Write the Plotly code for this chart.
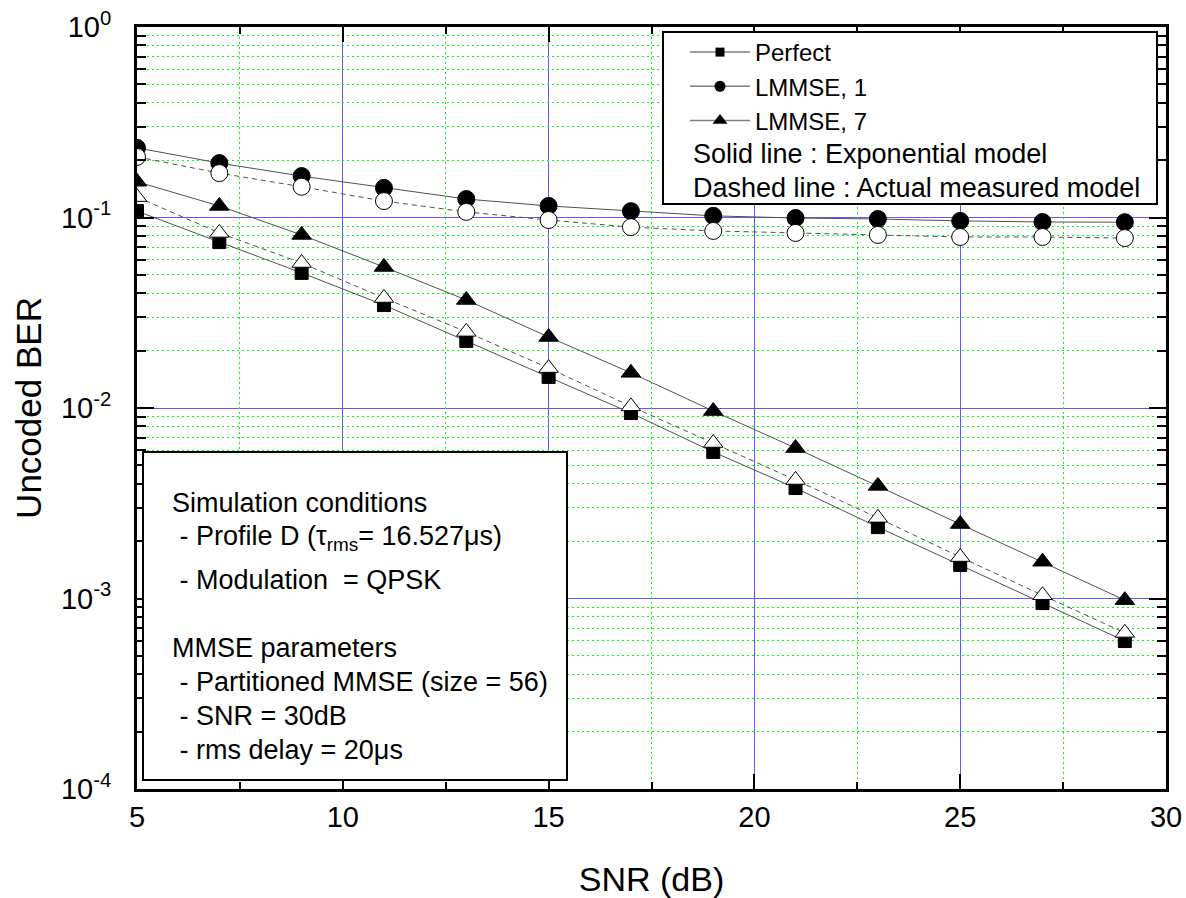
import plotly.graph_objects as go

# ---------------- data ----------------
snr = [5, 7, 9, 11, 13, 15, 17, 19, 21, 23, 25, 27, 29]
perfect = [0.108, 0.0743, 0.0512, 0.0347, 0.0225, 0.01456, 0.00941, 0.00588,
           0.0038, 0.00237, 0.0015, 0.000946, 0.000598]
lmmse1_exp = [0.232, 0.193, 0.165, 0.143, 0.125, 0.115, 0.108, 0.102,
              0.0994, 0.0982, 0.096, 0.0947, 0.0945]
lmmse7_exp = [0.154, 0.115, 0.081, 0.055, 0.0369, 0.0236, 0.0153, 0.00964,
              0.00616, 0.0039, 0.00246, 0.00156, 0.00098]
lmmse1_meas = [0.208, 0.171, 0.145, 0.122, 0.107, 0.097, 0.089, 0.085,
               0.083, 0.081, 0.079, 0.079, 0.078]
lmmse7_meas = [0.128, 0.083, 0.0577, 0.0378, 0.0251, 0.0162, 0.0102, 0.00655,
               0.00419, 0.00265, 0.00165, 0.00104, 0.00066]

series_names = ["Perfect", "LMMSE, 1", "LMMSE, 7"]
x_tick_vals = [5, 10, 15, 20, 25, 30]
x_minor_vals = [7.5, 12.5, 17.5, 22.5, 27.5]
y_exponents = [-4, -3, -2, -1, 0]
y_tick_text = ["10<sup>%s</sup>" % e for e in y_exponents]

legend_note_lines = ["Solid line : Exponential model",
                     "Dashed line : Actual measured model"]
cond_lines = ["Simulation conditions",
              " - Profile D (\u03c4<sub>rms</sub>= 16.527\u03bcs)",
              " - Modulation  = QPSK",
              "MMSE parameters",
              " - Partitioned MMSE (size = 56)",
              " - SNR = 30dB",
              " - rms delay = 20\u03bcs"]

FONT = "Liberation Sans, Arial, sans-serif"
LINE_C = "#505050"
BLUE = "#5a5aff"
GREEN = "#00ff00"

# ---------------- figure ----------------
fig = go.Figure()

# empty helpers so the overlay (minor-grid) axes get drawn
fig.add_trace(go.Scatter(x=[None], y=[None], xaxis="x2", yaxis="y",
                         showlegend=False, hoverinfo="skip"))
fig.add_trace(go.Scatter(x=[None], y=[None], xaxis="x", yaxis="y2",
                         showlegend=False, hoverinfo="skip"))

def add(y, name, symbol, filled, dash):
    fig.add_trace(go.Scatter(
        x=snr, y=y, name=name, mode="lines+markers",
        line=dict(color=LINE_C, width=1, dash=dash),
        marker=dict(symbol=symbol, size=17 if symbol != "square" else 13,
                    color="black" if filled else "white",
                    line=dict(color="black", width=1)),
        showlegend=False, cliponaxis=True))

add(perfect, series_names[0], "square", True, "solid")
add(lmmse1_exp, series_names[1], "circle", True, "solid")
add(lmmse7_exp, series_names[2], "triangle-up", True, "solid")
add(lmmse1_meas, series_names[1] + " (measured)", "circle", False, "5px,4px")
add(lmmse7_meas, series_names[2] + " (measured)", "triangle-up", False, "5px,4px")

# legend-only entries (small symbols, thin grey line, as in the reference key)
for name, sym, sz in zip(series_names, ["square", "circle", "triangle-up"], [9, 11, 13]):
    fig.add_trace(go.Scatter(
        x=[None], y=[None], name=name, mode="lines+markers",
        line=dict(color="#808080", width=1.5),
        marker=dict(symbol=sym, size=sz, color="black"),
        showlegend=True))

W, H = 1186, 898
L, R, T, B = 137, 1166, 27, 789

def px(x):
    return (x - L) / (R - L)

def py(y):
    return (B - y) / (B - T)

shapes = [
    dict(type="rect", xref="paper", yref="paper", layer="above",
         x0=px(663), x1=px(1157), y0=py(204), y1=py(32),
         fillcolor="white", line=dict(color="black", width=2)),
    dict(type="rect", xref="paper", yref="paper", layer="above",
         x0=px(143), x1=px(567), y0=py(780), y1=py(452),
         fillcolor="white", line=dict(color="black", width=2)),
]

annotations = []
for txt, ypix in zip(legend_note_lines, [154, 188]):
    annotations.append(dict(xref="paper", yref="paper", x=px(691), y=py(ypix),
                            xanchor="left", yanchor="middle", showarrow=False,
                            text=txt, font=dict(family=FONT, size=27, color="black")))
for txt, ypix in zip(cond_lines, [503, 538, 580, 648, 682, 716, 750]):
    annotations.append(dict(xref="paper", yref="paper", x=px(170), y=py(ypix),
                            xanchor="left", yanchor="middle", showarrow=False,
                            text=txt, font=dict(family=FONT, size=27, color="black")))

minor_y = [k * 10.0 ** e for e in range(-4, 0) for k in range(2, 10)]

fig.update_layout(
    width=W, height=H,
    margin=dict(l=L, r=W - R, t=T, b=H - B, autoexpand=False),
    paper_bgcolor="white", plot_bgcolor="white",
    font=dict(family=FONT, color="black"),
    shapes=shapes, annotations=annotations,
    legend=dict(x=px(685), y=py(30), xanchor="left", yanchor="top",
                bgcolor="rgba(0,0,0,0)", borderwidth=0,
                font=dict(family=FONT, size=24, color="black"),
                itemsizing="trace", itemwidth=60, tracegroupgap=0),
    xaxis=dict(range=[5, 30], tickmode="array", tickvals=x_tick_vals,
               ticks="inside", ticklen=15, tickwidth=2, tickcolor="black",
               showline=True, linecolor="black", linewidth=3, mirror="ticks",
               showgrid=True, gridcolor=BLUE, gridwidth=1,
               zeroline=False, ticklabeloverflow="allow",
               tickfont=dict(family=FONT, size=29, color="black"),
               title=dict(text="SNR (dB)", font=dict(family=FONT, size=34),
                          standoff=37)),
    yaxis=dict(type="log", range=[-4, 0], tickmode="array",
               tickvals=[10.0 ** e for e in y_exponents], ticktext=y_tick_text,
               ticks="inside", ticklen=17, tickwidth=2, tickcolor="black",
               showline=True, linecolor="black", linewidth=3, mirror="ticks",
               showgrid=True, gridcolor=BLUE, gridwidth=1,
               zeroline=False, ticklabelstandoff=17, ticklabeloverflow="allow",
               tickfont=dict(family=FONT, size=29, color="black"),
               title=dict(text="Uncoded BER", font=dict(family=FONT, size=35),
                          standoff=9)),
    # overlay axes carrying the minor ticks and the green dotted minor grid
    xaxis2=dict(overlaying="x", anchor="y", side="bottom", range=[5, 30],
                tickmode="array", tickvals=x_minor_vals, showticklabels=False,
                ticks="inside", ticklen=7, tickwidth=2, tickcolor="black",
                mirror="ticks", showline=False, zeroline=False, showgrid=True,
                gridcolor=GREEN, griddash="2px,3px", gridwidth=1),
    yaxis2=dict(overlaying="y", anchor="x", side="left", type="log", range=[-4, 0],
                tickmode="array", tickvals=minor_y, showticklabels=False,
                ticks="inside", ticklen=9, tickwidth=2, tickcolor="black",
                mirror="ticks", showline=False, zeroline=False, showgrid=True,
                gridcolor=GREEN, griddash="2px,3px", gridwidth=1),
)

fig.write_html("out.html",
               config={"displayModeBar": False},
               post_script="document.body.style.margin='0';"
                           "document.body.style.overflow='hidden';")
